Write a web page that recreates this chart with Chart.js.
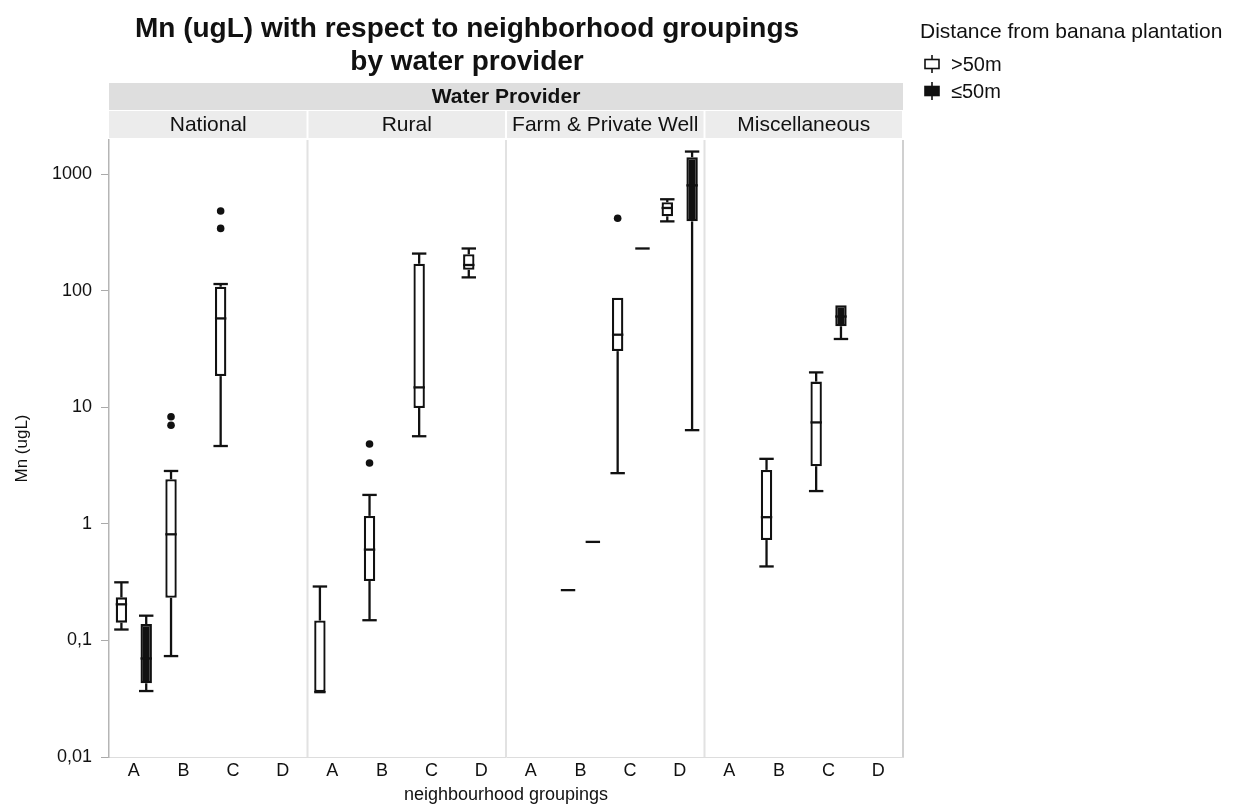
<!DOCTYPE html>
<html><head><meta charset="utf-8">
<script src="https://cdn.jsdelivr.net/npm/chart.js@4.4.1/dist/chart.umd.min.js"></script>
<style>html,body{margin:0;padding:0;background:#fff;overflow:hidden}#wrap{width:1235px;height:807px;position:relative}</style>
</head><body><div id="wrap"><canvas id="c" width="1235" height="807"></canvas></div>
<script>
const FONT = '"Liberation Sans", Arial, Helvetica, sans-serif';
const chartTitle = ['Mn (ugL) with respect to neighborhood groupings', 'by water provider'];
const facetTitle = 'Water Provider';
const providers = ['National', 'Rural', 'Farm & Private Well', 'Miscellaneous'];
const groups = ['A', 'B', 'C', 'D'];
const categories = providers.flatMap(() => groups);
const seriesNames = ['>50m', '≤50m'];
const legendTitle = 'Distance from banana plantation';
const yTitle = 'Mn (ugL)';
const xTitle = 'neighbourhood groupings';
const yTickValues = [0.01, 0.1, 1, 10, 100, 1000];
const yTickLabels = ['0,01', '0,1', '1', '10', '100', '1000'];

// series ">50m" (white boxes), 16 categories: National A-D, Rural A-D, Farm A-D, Misc A-D
const farMin = [0.124, 0.0734, 4.65, null, 0.036, 0.149, 5.64, 130, null, 0.27, 2.72, 393, null, 0.431, 1.91, null];
const farQ1  = [0.142, 0.232, 18.5, null, 0.036, 0.323, 9.86, 151, null, 0.27, 30.3, 434, null, 0.726, 3.12, null];
const farMed = [0.204, 0.813, 57.8, null, 0.036, 0.601, 14.8, 166, null, 0.27, 41.9, 512, null, 1.14, 7.41, null];
const farQ3  = [0.234, 2.41, 108, null, 0.148, 1.17, 170, 205, null, 0.27, 87.1, 573, null, 2.90, 16.6, null];
const farMax = [0.315, 2.84, 114, null, 0.29, 1.77, 208, 230, null, 0.27, 87.1, 608, null, 3.61, 19.9, null];
const farOut = [[], [7.0, 8.3], [342, 482], [], [], [3.32, 4.84], [], [], [], [], [418], [], [], [], [], []];

// series "≤50m" (black boxes)
const nearMin = [0.0368, null, null, null, null, null, null, null, null, 0.70, 230, 6.36, null, null, 38.5, null];
const nearQ1  = [0.0429, null, null, null, null, null, null, null, null, 0.70, 230, 393, null, null, 49.5, null];
const nearMed = [0.07, null, null, null, null, null, null, null, null, 0.70, 230, 800, null, null, 60, null];
const nearQ3  = [0.138, null, null, null, null, null, null, null, null, 0.70, 230, 1394, null, null, 75, null];
const nearMax = [0.163, null, null, null, null, null, null, null, null, 0.70, 230, 1560, null, null, 75, null];
const nearOut = [[], [], [], [], [], [], [], [], [], [], [], [], [], [], [], []];

const stats = [
  {min: farMin, q1: farQ1, med: farMed, q3: farQ3, max: farMax, out: farOut},
  {min: nearMin, q1: nearQ1, med: nearMed, q3: nearQ3, max: nearMax, out: nearOut}
];

function line(ctx, x1, y1, x2, y2) { ctx.beginPath(); ctx.moveTo(x1, y1); ctx.lineTo(x2, y2); ctx.stroke(); }

const boxPlugin = {
  id: 'boxes',
  afterDatasetsDraw(chart) {
    const ctx = chart.ctx, ys = chart.scales.y;
    const Y = v => ys.getPixelForValue(v);
    chart.data.datasets.forEach((ds, di) => {
      const s = stats[di];
      const meta = chart.getDatasetMeta(di);
      meta.data.forEach((el, i) => {
        if (s.med[i] == null) return;
        const x = el.x, w = el.width, cap = w / 2 + 1.5;
        ctx.save();
        ctx.strokeStyle = '#111'; ctx.fillStyle = '#111'; ctx.lineWidth = 2.3; ctx.lineCap = 'butt';
        if (s.max[i] > s.q3[i]) { line(ctx, x, Y(s.q3[i]), x, Y(s.max[i])); line(ctx, x - cap, Y(s.max[i]), x + cap, Y(s.max[i])); }
        if (s.min[i] < s.q1[i]) { line(ctx, x, Y(s.q1[i]), x, Y(s.min[i])); line(ctx, x - cap, Y(s.min[i]), x + cap, Y(s.min[i])); }
        const ext = s.q1[i] === s.q3[i] ? 1.5 : 0;
        line(ctx, x - w / 2 - ext, Y(s.med[i]), x + w / 2 + ext, Y(s.med[i]));
        s.out[i].forEach(v => { ctx.beginPath(); ctx.arc(x, Y(v), 3.8, 0, Math.PI * 2); ctx.fill(); });
        ctx.restore();
      });
    });
  }
};

const framePlugin = {
  id: 'frame',
  beforeDatasetsDraw(chart) {
    const ctx = chart.ctx, a = chart.chartArea;
    const cw = (a.right - a.left) / categories.length;
    ctx.save();
    ctx.strokeStyle = '#e2e2e2'; ctx.lineWidth = 2;
    for (let k = 1; k < providers.length; k++) {
      const x = a.left + k * groups.length * cw;
      line(ctx, x, a.top, x, a.bottom);
    }
    ctx.strokeStyle = '#d0d0d0';
    line(ctx, a.right, a.top, a.right, a.bottom);
    ctx.restore();
  },
  afterDraw(chart) {
    const ctx = chart.ctx, a = chart.chartArea;
    const cw = (a.right - a.left) / categories.length;
    ctx.save();
    // facet strips
    ctx.fillStyle = '#dedede';
    ctx.fillRect(a.left, 83, a.right - a.left, 27);
    ctx.fillStyle = '#111';
    ctx.font = 'bold 21px ' + FONT; ctx.textAlign = 'center'; ctx.textBaseline = 'middle';
    ctx.fillText(facetTitle, (a.left + a.right) / 2, 97);
    ctx.font = '21px ' + FONT;
    providers.forEach((p, k) => {
      const x0 = a.left + k * groups.length * cw, x1 = x0 + groups.length * cw;
      ctx.fillStyle = '#ececec';
      ctx.fillRect(x0 + (k ? 1 : 0), 111, x1 - x0 - (k ? 1 : 0) - 1, 27);
      ctx.fillStyle = '#111';
      ctx.fillText(p, (x0 + x1) / 2, 125);
    });
    // title
    ctx.font = 'bold 28px ' + FONT;
    ctx.fillText(chartTitle[0], 467, 29);
    ctx.fillText(chartTitle[1], 467, 62);
    // legend
    ctx.textAlign = 'left';
    ctx.font = '21px ' + FONT;
    ctx.fillText(legendTitle, 920, 32);
    ctx.font = '20px ' + FONT;
    seriesNames.forEach((n, i) => {
      const cy = 64 + i * 27, cx = 932;
      ctx.strokeStyle = '#111'; ctx.lineWidth = 1.6;
      line(ctx, cx, cy - 9, cx, cy + 9);
      ctx.fillStyle = i === 0 ? '#fff' : '#111';
      ctx.fillRect(cx - 7, cy - 4.5, 14, 9);
      ctx.strokeRect(cx - 7, cy - 4.5, 14, 9);
      ctx.fillStyle = '#111';
      ctx.fillText(n, 951, cy + 1);
    });
    ctx.restore();
  }
};

const datasets = stats.map((s, di) => ({
  label: seriesNames[di],
  data: s.q1.map((q, i) => q == null ? null : [q, s.q3[i]]),
  backgroundColor: di === 0 ? '#ffffff' : '#111111',
  borderColor: '#111111',
  borderWidth: 2.3,
  borderSkipped: false,
  barPercentage: 0.46,
  categoryPercentage: 1.0
}));

new Chart(document.getElementById('c'), {
  type: 'bar',
  data: { labels: categories, datasets },
  plugins: [framePlugin, boxPlugin],
  options: {
    responsive: false,
    animation: false,
    events: [],
    layout: { padding: { top: 140, right: 332, left: 4, bottom: 0 } },
    plugins: { legend: { display: false }, tooltip: { enabled: false }, title: { display: false } },
    scales: {
      x: {
        type: 'category',
        offset: true,
        grid: { display: false, drawTicks: false },
        border: { display: true, color: '#dddddd', width: 1 },
        ticks: { color: '#111', font: { family: FONT, size: 18 }, padding: 3, maxRotation: 0, autoSkip: false },
        title: { display: true, text: xTitle, color: '#111', font: { family: FONT, size: 18 }, padding: { top: 0, bottom: 1 } },
        afterFit: s => { s.height = 50; }
      },
      y: {
        type: 'logarithmic',
        min: 0.01, max: 1960,
        bounds: 'data',
        afterBuildTicks: s => { s.ticks = yTickValues.map(v => ({ value: v })); },
        grid: { display: true, drawOnChartArea: false, drawTicks: true, tickLength: 8, color: '#aaaaaa' },
        border: { display: true, color: '#b5b5b5', width: 1.5 },
        ticks: { color: '#111', font: { family: FONT, size: 18 }, padding: 9,
          callback: v => { const k = yTickValues.indexOf(v); return k >= 0 ? yTickLabels[k] : ''; } },
        title: { display: true, text: yTitle, color: '#111', font: { family: FONT, size: 17 }, padding: { top: 8, bottom: 0 } },
        afterFit: s => { s.width = 105; }
      }
    }
  }
});
</script></body></html>
